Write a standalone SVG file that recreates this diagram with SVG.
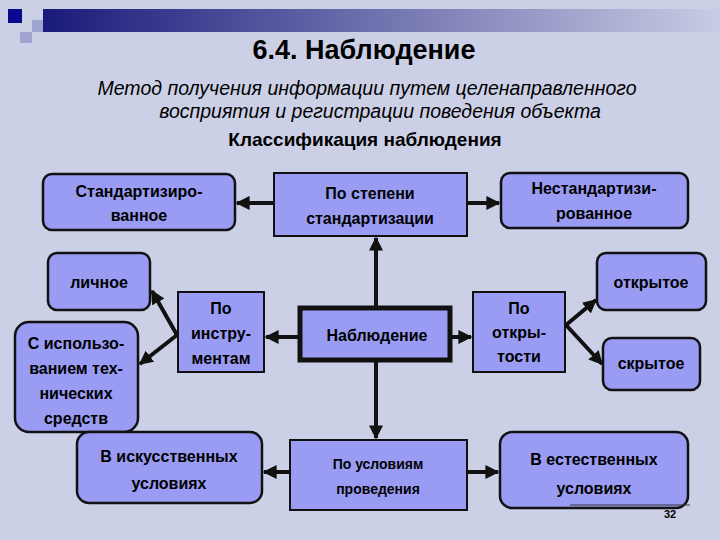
<svg xmlns="http://www.w3.org/2000/svg" width="720" height="540" viewBox="0 0 720 540">
<defs>
<linearGradient id="bar" x1="0" x2="1"><stop offset="0" stop-color="#1a1a7a"/><stop offset="1" stop-color="#c8cce4"/></linearGradient>
<marker id="ah" viewBox="0 0 10 10" refX="9" refY="5" markerWidth="3.5" markerHeight="3.5" orient="auto"><path d="M0,0 L10,5 L0,10 z" fill="#111"/></marker>
<style>
.r{fill:#9a9cf4;stroke:#111;stroke-width:2.5}
.b{fill:#9a9cf4;stroke:#111;stroke-width:2}
.t{font-family:"Liberation Sans",Arial,sans-serif;font-size:16px;font-weight:bold;fill:#000;text-anchor:middle}
.c{stroke:#111;stroke-width:4;fill:none;marker-end:url(#ah)}
</style>
</defs>
<rect width="720" height="540" fill="#ccd0e6"/>
<rect x="43" y="9" width="677" height="23" fill="url(#bar)"/>
<rect x="8" y="9" width="14" height="14" fill="#0a0a90"/>
<rect x="32" y="20" width="11" height="12" fill="#a0a4d0"/>
<rect x="20" y="32" width="12" height="11" fill="#a0a4d0"/>
<text x="364" y="59" class="t" style="font-size:27px">6.4. Наблюдение</text>
<text x="367" y="95" class="t" style="font-size:19.5px;font-style:italic;font-weight:normal">Метод получения информации путем целенаправленного</text>
<text x="380" y="118" class="t" style="font-size:19.5px;font-style:italic;font-weight:normal">восприятия и регистрации поведения объекта</text>
<text x="365" y="146" class="t" style="font-size:19px">Классификация наблюдения</text>
<g id="connectors">
<line x1="274" y1="203" x2="237" y2="203" class="c"/>
<line x1="467" y1="203" x2="499" y2="203" class="c"/>
<line x1="376" y1="308" x2="376" y2="238" class="c"/>
<line x1="376" y1="360" x2="376" y2="438" class="c"/>
<line x1="300" y1="337" x2="266" y2="337" class="c"/>
<line x1="450" y1="337" x2="471" y2="337" class="c"/>
<line x1="177" y1="335" x2="152" y2="291" class="c"/>
<line x1="177" y1="335" x2="140" y2="364" class="c"/>
<line x1="566" y1="325" x2="596" y2="300" class="c"/>
<line x1="566" y1="325" x2="602" y2="364" class="c"/>
<line x1="290" y1="472" x2="264" y2="472" class="c"/>
<line x1="467" y1="472" x2="498" y2="472" class="c"/>
</g>
<g id="std"><rect x="43" y="174" width="192" height="56" rx="9" class="r"/><text x="139" y="197" class="t">Стандартизиро-</text><text x="139" y="221" class="t">ванное</text></g>
<g id="step"><rect x="274" y="173" width="193" height="63" class="b"/><text x="370" y="199" class="t">По степени</text><text x="370" y="224" class="t">стандартизации</text></g>
<g id="nestd"><rect x="501" y="173" width="187" height="55" rx="9" class="r"/><text x="594" y="194" class="t">Нестандартизи-</text><text x="594" y="219" class="t">рованное</text></g>
<g id="lich"><rect x="48" y="253" width="102" height="57" rx="9" class="r"/><text x="99" y="288" class="t">личное</text></g>
<g id="tech"><rect x="15" y="322" width="123" height="110" rx="14" class="r"/><text x="76" y="349" class="t">С использо-</text><text x="76" y="374" class="t">ванием тех-</text><text x="76" y="399" class="t">нических</text><text x="76" y="424" class="t">средств</text></g>
<g id="instr"><rect x="178" y="292" width="86" height="80" class="b"/><text x="221" y="314" class="t">По</text><text x="221" y="339" class="t">инстру-</text><text x="221" y="364" class="t">ментам</text></g>
<g id="nabl"><rect x="300" y="308" width="150" height="52" fill="#9a9cf4" stroke="#111" stroke-width="5"/><text x="377" y="341" class="t">Наблюдение</text></g>
<g id="otkr"><rect x="473" y="292" width="92" height="80" class="b"/><text x="519" y="314" class="t">По</text><text x="519" y="338" class="t">откры-</text><text x="519" y="362" class="t">тости</text></g>
<g id="open"><rect x="597" y="253" width="109" height="57" rx="9" class="r"/><text x="651" y="288" class="t">открытое</text></g>
<g id="hidden"><rect x="603" y="338" width="97" height="52" rx="9" class="r"/><text x="651" y="369" class="t">скрытое</text></g>
<g id="art"><rect x="77" y="432" width="185" height="71" rx="12" class="r"/><text x="169" y="462" class="t">В искусственных</text><text x="169" y="489" class="t">условиях</text></g>
<g id="cond"><rect x="290" y="440" width="177" height="70" class="b"/><text x="378" y="469" class="t" style="font-size:14px">По условиям</text><text x="378" y="494" class="t" style="font-size:14px">проведения</text></g>
<g id="nat"><rect x="500" y="432" width="188" height="76" rx="12" class="r"/><text x="594" y="465" class="t">В естественных</text><text x="594" y="494" class="t">условиях</text></g>
<line x1="570" y1="505" x2="690" y2="505" stroke="#333" stroke-width="1"/>
<text x="670" y="518" class="t" style="font-size:11px">32</text>
</svg>
